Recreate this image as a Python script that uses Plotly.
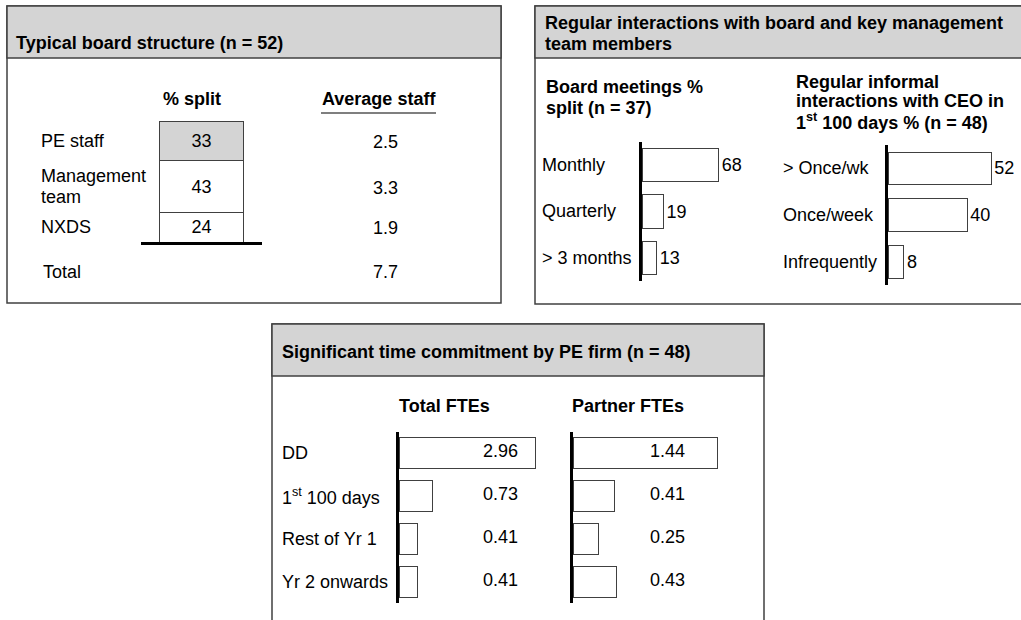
import plotly.graph_objects as go

W, H = 1021, 620
FONT = "Liberation Sans, Arial, sans-serif"
FS = 18
GRAY = "#d4d4d4"
EDGE = "#404040"

# ---------------- data ----------------
board_cats = ["PE staff", "Management team", "NXDS"]
board_split = [33, 43, 24]
avg_staff = [2.5, 3.3, 1.9]
avg_total = 7.7

meet_cats = ["Monthly", "Quarterly", "> 3 months"]
meet_pct = [68, 19, 13]

ceo_cats = ["> Once/wk", "Once/week", "Infrequently"]
ceo_pct = [52, 40, 8]

fte_cats = ["DD", "1<sup>st</sup> 100 days", "Rest of Yr 1", "Yr 2 onwards"]
total_fte = [2.96, 0.73, 0.41, 0.41]
partner_fte = [1.44, 0.41, 0.25, 0.43]


def X(px):
    return px / W


def Y(py):
    return 1 - py / H


fig = go.Figure()

# ---------------- panel 1: stacked % split ----------------
seg_colors = [GRAY, "white", "white"]
for cat, val, col in reversed(list(zip(board_cats, board_split, seg_colors))):
    fig.add_trace(go.Bar(
        x=["split"], y=[val], name=cat, width=0.7,
        marker=dict(color=col, line=dict(color=EDGE, width=1)),
        text=[str(val)], textposition="inside", insidetextanchor="middle",
        textangle=0, constraintext="none",
        textfont=dict(size=FS, color="black", family=FONT),
        xaxis="x", yaxis="y", hoverinfo="skip",
    ))

# ---------------- panel 2: bar charts ----------------
bar_style = dict(color="white", line=dict(color=EDGE, width=1))
fig.add_trace(go.Bar(
    y=meet_cats, x=meet_pct, orientation="h", width=0.72, marker=bar_style,
    text=[str(v) for v in meet_pct], textposition="outside", cliponaxis=False,
    constraintext="none", textfont=dict(size=FS, color="black", family=FONT),
    xaxis="x2", yaxis="y2", hoverinfo="skip",
))
fig.add_trace(go.Bar(
    y=ceo_cats, x=ceo_pct, orientation="h", width=0.7, marker=bar_style,
    text=[str(v) for v in ceo_pct], textposition="outside", cliponaxis=False,
    constraintext="none", textfont=dict(size=FS, color="black", family=FONT),
    xaxis="x3", yaxis="y3", hoverinfo="skip",
))

# ---------------- panel 3: FTE charts ----------------
fig.add_trace(go.Bar(
    y=fte_cats, x=total_fte, orientation="h", width=0.73, marker=bar_style,
    xaxis="x4", yaxis="y4", hoverinfo="skip", cliponaxis=False,
))
fig.add_trace(go.Bar(
    y=fte_cats, x=partner_fte, orientation="h", width=0.73, marker=bar_style,
    xaxis="x5", yaxis="y5", hoverinfo="skip", cliponaxis=False,
))

hidden = dict(visible=False, fixedrange=True)
cat_axis = dict(type="category", showline=True, linewidth=3, linecolor="black",
                showticklabels=False, ticks="", showgrid=False, zeroline=False,
                fixedrange=True)

fig.update_layout(
    width=W, height=H, margin=dict(l=0, r=0, t=0, b=0),
    paper_bgcolor="white", plot_bgcolor="rgba(0,0,0,0)",
    showlegend=False, barmode="stack",
    font=dict(family=FONT, size=FS, color="black"),
    xaxis=dict(domain=[X(141), X(262)], range=[-0.5, 0.5], showline=True,
               linewidth=3, linecolor="black", showticklabels=False, ticks="",
               showgrid=False, zeroline=False, fixedrange=True, anchor="y"),
    yaxis=dict(domain=[Y(242), Y(121)], range=[0, 100], anchor="x", **hidden),
    xaxis2=dict(domain=[X(642), X(755)], range=[0, 100], anchor="y2", **hidden),
    yaxis2=dict(domain=[Y(281), Y(142)], range=[2.5, -0.5], anchor="x2",
                categoryorder="array", categoryarray=meet_cats, **cat_axis),
    xaxis3=dict(domain=[X(888), X(1007)], range=[0, 60], anchor="y3", **hidden),
    yaxis3=dict(domain=[Y(285), Y(145)], range=[2.5, -0.5], anchor="x3",
                categoryorder="array", categoryarray=ceo_cats, **cat_axis),
    xaxis4=dict(domain=[X(399), X(537)], range=[0, 3], anchor="y4", **hidden),
    yaxis4=dict(domain=[Y(603), Y(432)], range=[3.5, -0.5], anchor="x4",
                categoryorder="array", categoryarray=fte_cats, **cat_axis),
    xaxis5=dict(domain=[X(573), X(723)], range=[0, 1.5], anchor="y5", **hidden),
    yaxis5=dict(domain=[Y(603), Y(432)], range=[3.5, -0.5], anchor="x5",
                categoryorder="array", categoryarray=fte_cats, **cat_axis),
)

# ---------------- shapes: panel frames ----------------
shapes = []


def panel(x0, x1, y0, y1, yh):
    shapes.append(dict(type="rect", xref="paper", yref="paper", layer="below",
                       x0=X(x0), x1=X(x1), y0=Y(y1), y1=Y(y0),
                       fillcolor="white", line=dict(color=EDGE, width=1.5)))
    shapes.append(dict(type="rect", xref="paper", yref="paper", layer="below",
                       x0=X(x0), x1=X(x1), y0=Y(yh), y1=Y(y0),
                       fillcolor=GRAY, line=dict(color=EDGE, width=1.5)))


panel(7, 501, 6, 303, 58)
panel(535, 1030, 6, 304, 58)
panel(272, 764, 324, 640, 376)
shapes.append(dict(type="line", xref="paper", yref="paper",
                   x0=X(321), x1=X(436), y0=Y(113), y1=Y(113),
                   line=dict(color="#555555", width=1.5)))
fig.update_layout(shapes=shapes)

# ---------------- annotations ----------------
anns = []


def txt(text, x, y, xanchor="left", bold=False, xref="paper", yref="paper",
        yshift=0):
    if bold:
        text = "<b>" + text + "</b>"
    anns.append(dict(text=text, x=x, y=y, xref=xref, yref=yref,
                     xanchor=xanchor, yanchor="middle", showarrow=False,
                     yshift=yshift, borderpad=0,
                     font=dict(family=FONT, size=FS, color="black")))


# panel 1
txt("Typical board structure (n = 52)", X(15), Y(43), bold=True)
txt("% split", X(192), Y(99), xanchor="center", bold=True)
txt("Average staff", X(379), Y(99), xanchor="center", bold=True)
cum = 0
mids = []
for v in reversed(board_split):
    mids.append(cum + v / 2)
    cum += v
mids = list(reversed(mids))
for cat, mid, avg in zip(board_cats, mids, avg_staff):
    if cat == "Management team":
        txt("Management", X(40), mid, yref="y", yshift=11)
        txt("team", X(40), mid, yref="y", yshift=-10)
    else:
        txt(cat, X(40), mid, yref="y")
    txt(f"{avg:.1f}", X(385), mid, xanchor="center", yref="y", yshift=-1)
txt("Total", X(42), Y(272))
txt(f"{avg_total:.1f}", X(385), Y(272), xanchor="center")

# panel 2
txt("Regular interactions with board and key management", X(544), Y(23), bold=True)
txt("team members", X(544), Y(44), bold=True)
txt("Board meetings %", X(545), Y(87), bold=True)
txt("split (n = 37)", X(545), Y(108), bold=True)
txt("Regular informal", X(795), Y(82), bold=True)
txt("interactions with CEO in", X(795), Y(101), bold=True)
txt("1<sup>st</sup> 100 days % (n = 48)", X(795), Y(121), bold=True)
for c in meet_cats:
    txt(c, X(541), c, yref="y2")
for c in ceo_cats:
    txt(c, X(782), c, yref="y3")

# panel 3
txt("Significant time commitment by PE firm (n = 48)", X(281), Y(352), bold=True)
txt("Total FTEs", X(444), Y(406), xanchor="center", bold=True)
txt("Partner FTEs", X(628), Y(406), xanchor="center", bold=True)
for c, v1, v2 in zip(fte_cats, total_fte, partner_fte):
    txt(c, X(281), c, yref="y4")
    txt(f"{v1:.2f}", X(500), c, xanchor="center", yref="y4", yshift=2)
    txt(f"{v2:.2f}", X(667), c, xanchor="center", yref="y5", yshift=2)

fig.update_layout(annotations=anns)

fig.write_html("out.html", config={"displayModeBar": False, "staticPlot": True},
               post_script="document.body.style.margin='0';"
                           "document.body.style.overflow='hidden';")
